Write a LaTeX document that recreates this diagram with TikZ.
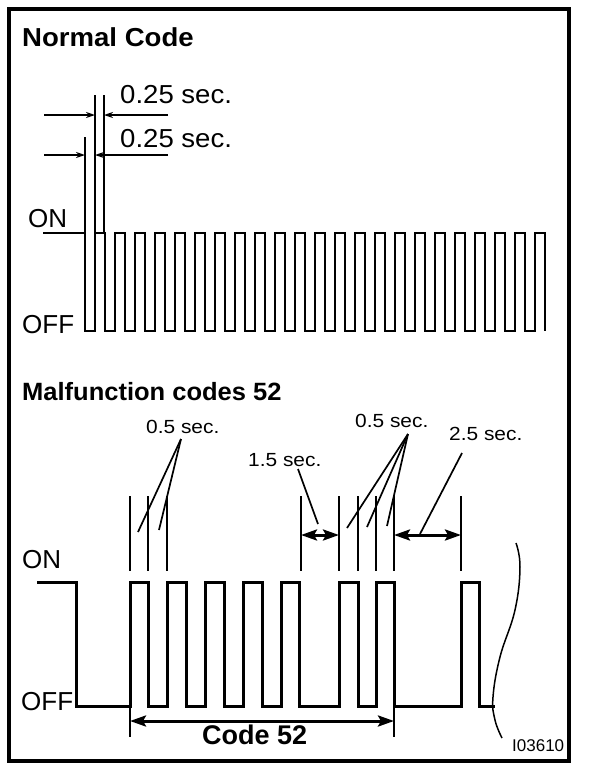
\documentclass[tikz,border=0pt]{standalone}
\usepackage{fontspec}
\setmainfont{Liberation Sans}
\usetikzlibrary{arrows.meta}
\newcommand{\sx}[2]{\scalebox{#1}[1]{#2}}
\begin{document}
\begin{tikzpicture}[x=1pt,y=-1pt,line join=miter,
  frame/.style={line width=4pt},
  wave/.style={line width=3pt},
  thinwave/.style={line width=2.5pt},
  ext/.style={line width=1.7pt},
  leader/.style={line width=1.7pt},
  lbl/.style={inner sep=0pt,anchor=base west},
  head/.style={lbl,font=\fontsize{26}{30}\selectfont\bfseries},
  big/.style={lbl,font=\fontsize{26}{30}\selectfont},
  small/.style={lbl,font=\fontsize{19}{22}\selectfont},
  dimsmall/.style={line width=1.8pt,-{Stealth[length=9pt,width=6pt]}},
  dimbig/.style={line width=3pt,{Stealth[length=16pt,width=11pt,inset=3pt]}-{Stealth[length=16pt,width=11pt,inset=3pt]}}]
\useasboundingbox (0,0) rectangle (608,772);
\draw[frame] (9,8.5) rectangle (569,761);

% ---------------- Normal code ----------------
\node[head] (nc) at (22,46) {\sx{1.06}{Normal Code}};
\node[big] (t1) at (120,103) {\sx{1.06}{0.25 sec.}};
\node[big] (t2) at (120,147) {\sx{1.06}{0.25 sec.}};
\node[big] (non) at (28,227) {ON};
\node[big] (noff) at (22,333) {OFF};

\draw[thinwave] (43,233) -- (85,233) -- (85,331) -- (95,331)
  \foreach \k in {0,...,21} { -- ({95+20*\k},233) -- ({105+20*\k},233) -- ({105+20*\k},331) -- ({115+20*\k},331) }
  -- (535,233) -- (545,233) -- (545,331);

\coordinate (e1t) at (95,95);  \coordinate (e1b) at (95,233);
\coordinate (e2t) at (104,95); \coordinate (e2b) at (104,233);
\coordinate (e3t) at (85,137); \coordinate (e3b) at (85,233);
\draw[ext] (e1t) -- (e1b);
\draw[ext] (e2t) -- (e2b);
\draw[ext] (e3t) -- (e3b);

\coordinate (a1l) at (44,115);  \coordinate (a1r) at (168,115);
\coordinate (a2l) at (44,155);  \coordinate (a2r) at (168,155);
\draw[dimsmall] (a1l) -- (95,115);
\draw[dimsmall] (a1r) -- (104,115);
\draw[dimsmall] (a2l) -- (85,155);
\draw[dimsmall] (a2r) -- (95,155);

% ---------------- Malfunction codes ----------------
\node[head,font=\fontsize{25}{30}\selectfont\bfseries] (mc) at (22,400) {\sx{1.02}{Malfunction codes 52}};
\node[big] (mon) at (22,568) {ON};
\node[big] (moff) at (21,710) {OFF};
\node[small] (h1) at (146,433) {\sx{1.1}{0.5 sec.}};
\node[small] (h2) at (248,466) {\sx{1.1}{1.5 sec.}};
\node[small] (h3) at (355,427) {\sx{1.1}{0.5 sec.}};
\node[small] (h4) at (449,440) {\sx{1.1}{2.5 sec.}};
\node[head,font=\fontsize{27}{30}\selectfont\bfseries] (code) at (202,744) {Code 52};
\node[lbl,font=\fontsize{17}{20}\selectfont] (id) at (512,751) {I03610};

\draw[wave] (37,582) -- (76,582) -- (76,706) -- (130,706)
  -- (130,582) -- (148,582) -- (148,706) -- (167,706)
  -- (167,582) -- (186,582) -- (186,706) -- (205,706)
  -- (205,582) -- (224,582) -- (224,706) -- (243,706)
  -- (243,582) -- (262,582) -- (262,706) -- (281,706)
  -- (281,582) -- (299,582) -- (299,706) -- (339,706)
  -- (339,582) -- (358,582) -- (358,706) -- (376,706)
  -- (376,582) -- (394,582) -- (394,706) -- (461,706)
  -- (461,582) -- (479,582) -- (479,706) -- (495,706);

\foreach \x in {130,148,167,301,339,358,376,394,461}
  \draw[ext] (\x,496) -- (\x,571);
\coordinate (c52l) at (130,721); \coordinate (c52r) at (394,721);
\draw[ext] (130,706) -- (130,737);
\draw[ext] (394,706) -- (394,737);
\draw[dimbig] (c52l) -- (c52r);

\coordinate (d15l) at (301,535); \coordinate (d15r) at (339,535);
\draw[dimbig] (d15l) -- (d15r);
\coordinate (d25l) at (394,535); \coordinate (d25r) at (461,535);
\draw[dimbig] (d25l) -- (d25r);

% leaders
\coordinate (p1) at (181,439);
\draw[leader] (p1) -- (138,532);
\draw[leader] (p1) -- (159,530);
\coordinate (p2) at (298,469);
\draw[leader] (p2) -- (318,524);
\coordinate (p3) at (408,434);
\draw[leader] (p3) -- (347,528);
\draw[leader] (p3) -- (367,527);
\draw[leader] (p3) -- (387,526);
\coordinate (p4) at (462,453);
\draw[leader] (p4) -- (420,534);

% break line
\draw[line width=1.5pt] plot[smooth,tension=0.7] coordinates {(516,543) (520,567) (515,610) (500,657) (493,697) (495,720) (502,738)};
\end{tikzpicture}
\end{document}
